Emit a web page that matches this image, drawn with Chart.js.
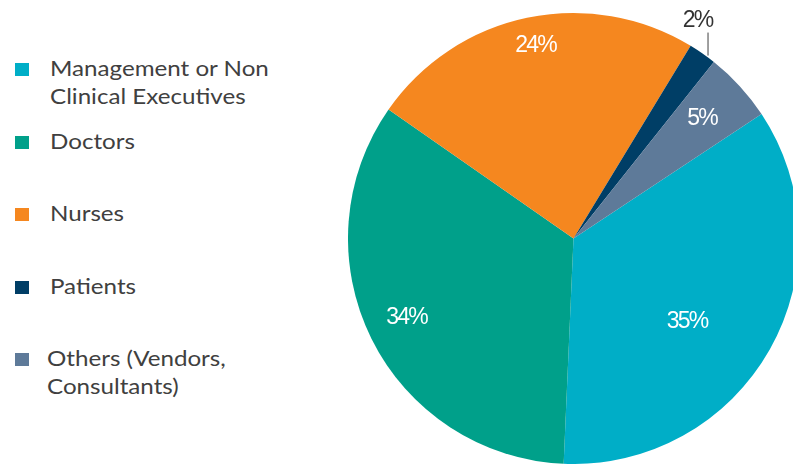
<!DOCTYPE html>
<html>
<head>
<meta charset="utf-8">
<script src="https://cdn.jsdelivr.net/npm/chart.js@4.4.1/dist/chart.umd.min.js"></script>
<style>
  html, body { margin: 0; padding: 0; background: #fff; }
  body { width: 793px; height: 465px; overflow: hidden; position: relative; }
  #legend { position: absolute; left: 0; top: 0; font-family: Lato, sans-serif; font-size: 21px; line-height: 28px; color: #404040; }
  .item { position: absolute; left: 0; }
  .item .box { position: absolute; left: 15px; top: 9px; width: 14px; height: 13px; }
  .item .txt { position: absolute; left: 50px; top: 0; white-space: pre; transform: scaleX(1.15); transform-origin: 0 0; }
  #wrap { position: absolute; left: 348px; top: 0; width: 451px; height: 464px; }
</style>
</head>
<body>
<div id="legend"></div>
<div id="wrap"><canvas id="pie" width="451" height="464"></canvas></div>
<script>
// respondents by role (%)
const roles = ['Management or Non\nClinical Executives', 'Doctors', 'Nurses', 'Patients', 'Others (Vendors,\nConsultants)'];
const shares = [35, 34, 24, 2, 5];
const colours = ['#00AEC7', '#00A08A', '#F5871F', '#003E66', '#5E7A99'];

// where each percentage sits inside its slice (fraction of radius, angle nudge)
const labelRadius = [0.625, 0.82, 0.87, 1.0, 0.78];
const labelNudge = [0.12, 0.015, 0.013, 0, -0.01];
const outsideLabel = [false, false, false, true, false];

// legend down the left side
const legend = document.getElementById('legend');
roles.forEach(function(name, i) {
    const item = document.createElement('div');
    item.className = 'item';
    item.style.top = (54 + i * 72.5) + 'px';
    const box = document.createElement('div');
    box.className = 'box';
    box.style.background = colours[i];
    const txt = document.createElement('div');
    txt.className = 'txt';
    if (i === roles.length - 1) txt.style.left = '47px';
    txt.textContent = name;
    item.appendChild(box);
    item.appendChild(txt);
    legend.appendChild(item);
});

const sliceLabels = {
    id: 'sliceLabels',
    afterDatasetsDraw(chart) {
        const ctx = chart.ctx;
        const arcs = chart.getDatasetMeta(0).data;
        ctx.save();
        ctx.font = '23px "Liberation Sans", Arial, sans-serif';
        ctx.letterSpacing = '-1.8px';
        ctx.textAlign = 'center';
        ctx.textBaseline = 'middle';
        arcs.forEach(function(arc, i) {
            const p = arc.getProps(['x', 'y', 'startAngle', 'endAngle', 'outerRadius'], true);
            const mid = (p.startAngle + p.endAngle) / 2 + labelNudge[i];
            const r = p.outerRadius * labelRadius[i];
            const x = p.x + Math.cos(mid) * r;
            const y = p.y + Math.sin(mid) * r;
            const text = shares[i] + '%';
            if (outsideLabel[i]) {
                ctx.strokeStyle = '#404040';
                ctx.lineWidth = 1;
                ctx.beginPath();
                ctx.moveTo(x + 5.5, y + 2);
                ctx.lineTo(x + 5.5, y - 21);
                ctx.stroke();
                ctx.fillStyle = '#333333';
                ctx.fillText(text, x - 5, y - 33);
            } else {
                ctx.fillStyle = '#ffffff';
                ctx.fillText(text, x, y);
            }
        });
        ctx.restore();
    }
};

new Chart(document.getElementById('pie'), {
    type: 'pie',
    data: {
        labels: roles,
        datasets: [{
            data: shares,
            backgroundColor: colours,
            borderWidth: 0
        }]
    },
    options: {
        responsive: false,
        animation: false,
        rotation: 56.5,
        layout: { padding: { top: 13 } },
        plugins: {
            legend: { display: false },
            tooltip: { enabled: false }
        }
    },
    plugins: [sliceLabels]
});
</script>
</body>
</html>
